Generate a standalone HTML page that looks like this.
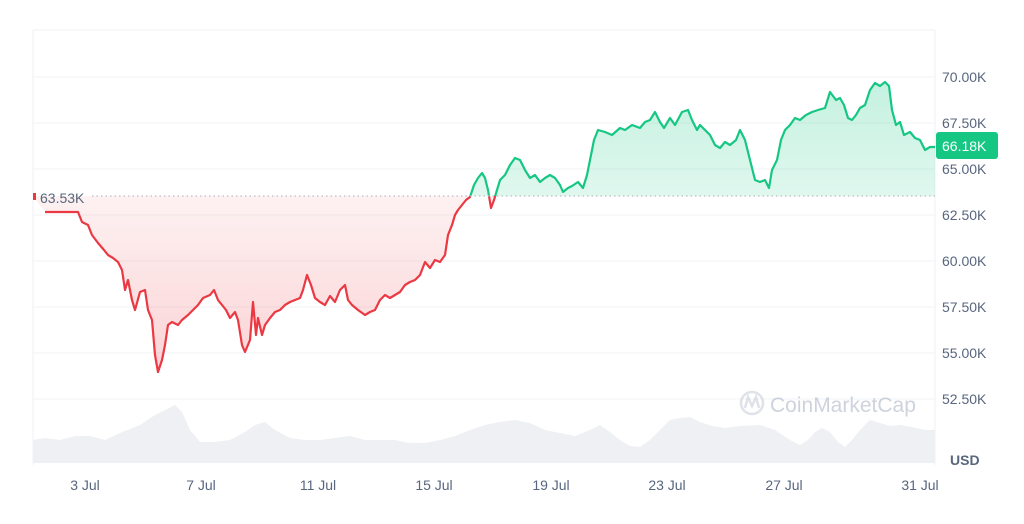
<!DOCTYPE html>
<html><head><meta charset="utf-8"><style>
body{margin:0;background:#fff;font-family:"Liberation Sans",sans-serif}
</style></head><body>
<svg width="1024" height="519" viewBox="0 0 1024 519" xmlns="http://www.w3.org/2000/svg" font-family="Liberation Sans, sans-serif">
<defs>
<linearGradient id="gr" x1="0" y1="0" x2="0" y2="1"><stop offset="0" stop-color="#ea3943" stop-opacity="0.06"/><stop offset="1" stop-color="#ea3943" stop-opacity="0.22"/></linearGradient>
<linearGradient id="gg" x1="0" y1="0" x2="0" y2="1"><stop offset="0" stop-color="#16c784" stop-opacity="0.25"/><stop offset="1" stop-color="#16c784" stop-opacity="0.12"/></linearGradient>
<clipPath id="below"><rect x="33" y="196" width="902" height="300"/></clipPath>
<clipPath id="above"><rect x="33" y="0" width="902" height="196"/></clipPath>
</defs>
<line x1="33" y1="30" x2="935" y2="30" stroke="#eff2f5"/>
<line x1="935" y1="30" x2="935" y2="465" stroke="#eff2f5"/>
<line x1="33" y1="30" x2="33" y2="465" stroke="#eff2f5"/>
<g stroke="#f1f3f5">
<line x1="33" y1="77" x2="935" y2="77"/><line x1="33" y1="123" x2="935" y2="123"/><line x1="33" y1="169" x2="935" y2="169"/><line x1="33" y1="215" x2="935" y2="215"/><line x1="33" y1="261" x2="935" y2="261"/><line x1="33" y1="307" x2="935" y2="307"/><line x1="33" y1="353" x2="935" y2="353"/><line x1="33" y1="399" x2="935" y2="399"/>
</g>
<path fill="#eff0f3" d="M33,463 L33,440 45,438 60,440 75,436 90,436 105,440 120,433 140,425 155,415 165,410 175,405 182,412 190,430 200,442 215,442 230,440 245,432 255,425 265,422 275,430 290,438 305,440 320,440 335,438 350,436 365,440 380,440 395,440 410,443 425,443 440,440 455,436 470,430 485,425 500,422 515,420 530,423 545,430 560,433 575,436 590,430 600,425 610,432 620,440 630,446 640,447 650,440 660,430 670,420 680,418 690,417 700,422 712,426 725,428 740,426 760,425 775,430 790,440 800,445 808,440 815,432 822,428 830,432 838,442 845,447 852,440 860,430 870,420 880,423 890,426 900,425 912,427 925,430 935,430 L935,463 Z"/>
<g opacity="0.35" fill="none" stroke="#a6b0c3" stroke-width="2.5"><circle cx="752" cy="403" r="11"/><path d="M745,408 L748,397 752,406 756,397 759,408"/></g>
<text x="770" y="412" font-size="21" fill="#a6b0c3" opacity="0.55">CoinMarketCap</text>
<g id="line">
</g>
<path clip-path="url(#below)" fill="url(#gr)" stroke="none" d="M33,196 L45,212 70,212 78,212 82,222 88,225 92,235 98,243 104,250 108,255 113,258 118,262 122,270 125,290 128,280 132,300 135,310 140,292 145,290 148,310 152,320 155,355 158,372 162,360 165,345 168,325 172,322 178,325 182,320 188,315 193,310 198,305 203,298 210,295 214,290 218,300 222,305 226,310 230,318 235,312 238,320 242,345 245,352 250,340 253,302 256,335 258,318 262,335 265,325 270,318 275,312 280,310 285,305 290,302 295,300 300,298 303,290 307,275 311,285 315,298 320,302 325,305 330,296 335,302 340,290 345,285 348,300 352,305 358,310 365,315 370,312 375,310 380,300 385,295 390,298 395,295 400,292 405,285 410,282 415,280 420,275 425,262 430,268 435,260 440,262 445,255 448,235 452,225 455,215 458,210 462,205 466,200 470,197 474,185 488,190 491,208 494,200 497,196 L497,196 Z"/>
<polyline clip-path="url(#below)" fill="none" stroke="#ea3943" stroke-width="2.2" stroke-linejoin="round" points="45,212 70,212 78,212 82,222 88,225 92,235 98,243 104,250 108,255 113,258 118,262 122,270 125,290 128,280 132,300 135,310 140,292 145,290 148,310 152,320 155,355 158,372 162,360 165,345 168,325 172,322 178,325 182,320 188,315 193,310 198,305 203,298 210,295 214,290 218,300 222,305 226,310 230,318 235,312 238,320 242,345 245,352 250,340 253,302 256,335 258,318 262,335 265,325 270,318 275,312 280,310 285,305 290,302 295,300 300,298 303,290 307,275 311,285 315,298 320,302 325,305 330,296 335,302 340,290 345,285 348,300 352,305 358,310 365,315 370,312 375,310 380,300 385,295 390,298 395,295 400,292 405,285 410,282 415,280 420,275 425,262 430,268 435,260 440,262 445,255 448,235 452,225 455,215 458,210 462,205 466,200 470,197 474,185 478,178 482,173 485,178 488,190 491,208 494,200 497,190"/>
<path clip-path="url(#above)" fill="url(#gg)" d="M466,196 L470,197 474,185 478,178 482,173 485,178 488,190 491,208 494,200 497,190 500,180 505,175 510,165 515,158 520,160 525,170 530,178 535,175 540,182 545,178 550,175 555,178 560,185 563,192 568,188 572,186 578,182 583,188 587,175 590,160 594,140 598,130 605,132 612,135 620,128 625,130 632,125 640,128 645,122 650,120 655,112 660,122 664,128 670,118 675,125 682,112 688,110 692,120 697,130 700,125 705,130 710,135 715,145 720,148 725,142 730,145 736,140 740,130 745,140 750,160 755,180 760,182 765,180 769,188 772,170 777,160 781,140 785,130 790,125 795,118 800,120 806,115 812,112 818,110 825,108 830,92 836,100 840,98 844,105 848,118 852,120 856,115 860,108 865,105 870,90 875,83 880,86 885,82 889,86 892,110 896,125 900,122 904,135 910,132 915,138 920,140 925,150 930,147 935,147 L935,196 Z"/>
<polyline clip-path="url(#above)" fill="none" stroke="#16c784" stroke-width="2.2" stroke-linejoin="round" points="466,200 470,197 474,185 478,178 482,173 485,178 488,190 491,208 494,200 497,190 500,180 505,175 510,165 515,158 520,160 525,170 530,178 535,175 540,182 545,178 550,175 555,178 560,185 563,192 568,188 572,186 578,182 583,188 587,175 590,160 594,140 598,130 605,132 612,135 620,128 625,130 632,125 640,128 645,122 650,120 655,112 660,122 664,128 670,118 675,125 682,112 688,110 692,120 697,130 700,125 705,130 710,135 715,145 720,148 725,142 730,145 736,140 740,130 745,140 750,160 755,180 760,182 765,180 769,188 772,170 777,160 781,140 785,130 790,125 795,118 800,120 806,115 812,112 818,110 825,108 830,92 836,100 840,98 844,105 848,118 852,120 856,115 860,108 865,105 870,90 875,83 880,86 885,82 889,86 892,110 896,125 900,122 904,135 910,132 915,138 920,140 925,150 930,147 935,147"/>
<line x1="92" y1="196" x2="935" y2="196" stroke="#b8bec8" stroke-width="1.2" stroke-dasharray="1.5 3"/>
<text x="40" y="203" font-size="14" fill="#58667e">63.53K</text>
<rect x="33" y="193" width="3" height="7" fill="#ea3943"/>
<g font-size="14" fill="#58667e">
<text x="942" y="82">70.00K</text><text x="942" y="128">67.50K</text><text x="942" y="174">65.00K</text><text x="942" y="220">62.50K</text><text x="942" y="266">60.00K</text><text x="942" y="312">57.50K</text><text x="942" y="358">55.00K</text><text x="942" y="404">52.50K</text>
<text x="950" y="465" font-weight="bold" fill="#58667e">USD</text>
</g>
<rect x="936" y="132" width="62" height="27" rx="3" fill="#16c784"/>
<text x="942" y="151" font-size="14" fill="#fff">66.18K</text>
<g font-size="14" fill="#58667e" text-anchor="middle">
<text x="85" y="490">3 Jul</text><text x="201" y="490">7 Jul</text><text x="318" y="490">11 Jul</text><text x="434" y="490">15 Jul</text><text x="551" y="490">19 Jul</text><text x="667" y="490">23 Jul</text><text x="784" y="490">27 Jul</text><text x="920" y="490">31 Jul</text>
</g>
</svg>
</body></html>
